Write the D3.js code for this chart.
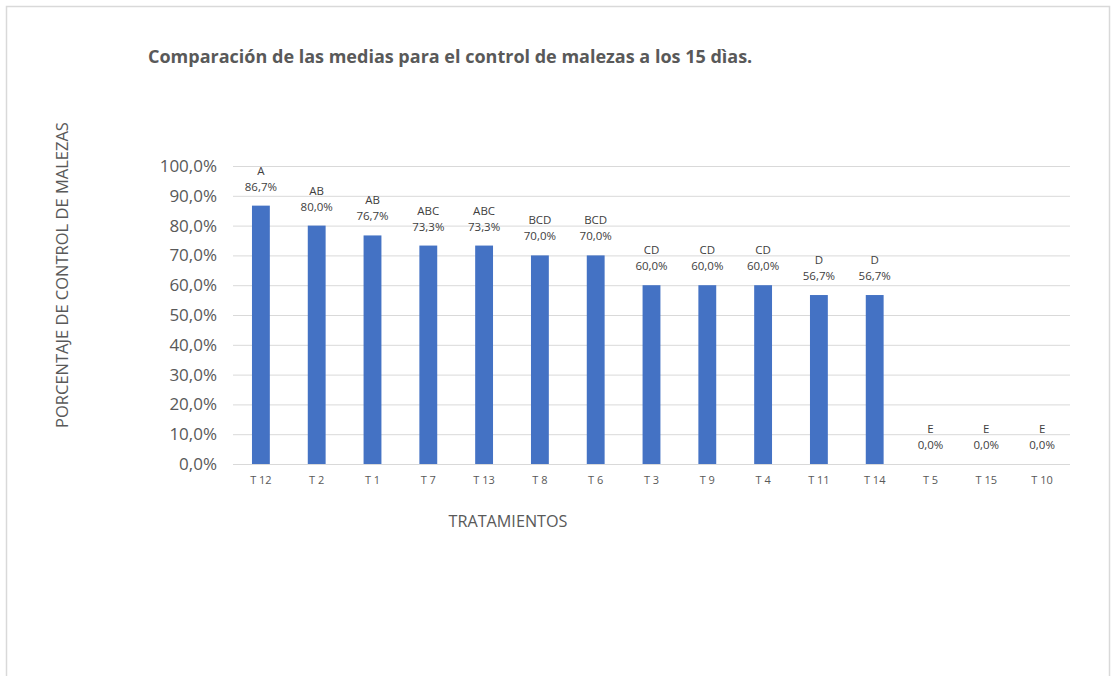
<!DOCTYPE html>
<html>
<head>
<meta charset="utf-8">
<script src="https://cdn.jsdelivr.net/npm/d3@7"></script>
<style>
  body { margin: 0; background: #fff; }
  text { font-family: "Open Sans", "Liberation Sans", sans-serif; }
</style>
</head>
<body>
<div id="chart"></div>
<script>
// datos
var tratamientos = ["T 12", "T 2", "T 1", "T 7", "T 13", "T 8", "T 6", "T 3", "T 9", "T 4", "T 11", "T 14", "T 5", "T 15", "T 10"];
var medias = [0.867, 0.800, 0.767, 0.733, 0.733, 0.700, 0.700, 0.600, 0.600, 0.600, 0.567, 0.567, 0, 0, 0];
var letras = ["A", "AB", "AB", "ABC", "ABC", "BCD", "BCD", "CD", "CD", "CD", "D", "D", "E", "E", "E"];
var yTicks = [0, 0.1, 0.2, 0.3, 0.4, 0.5, 0.6, 0.7, 0.8, 0.9, 1.0];

var w = 1111;
var h = 676;
// limites del area de trazado
var pLeft = 233, pRight = 1070, pTop = 166, pBottom = 464;

var fmt = function(v) { return (v * 100).toFixed(1).replace(".", ",") + "%"; };

var svg = d3.select("#chart")
  .append("svg")
  .attr("width", w)
  .attr("height", h);

// borde del area del grafico
svg.append("rect")
  .attr("x", 6.5).attr("y", 6.5)
  .attr("width", w - 8).attr("height", h + 10)
  .attr("fill", "#fff")
  .attr("stroke", "#d9d9d9")
  .attr("stroke-width", 1.5);

const x = d3.scaleBand()
  .domain(tratamientos)
  .range([pLeft, pRight])
  .paddingInner(0.68)
  .paddingOuter(0.34);

const y = d3.scaleLinear()
  .domain([0, 1])
  .range([pBottom, pTop]);

// lineas de cuadricula + etiquetas del eje y
const yAxis = svg.append("g")
  .attr("transform", `translate(${pLeft},0)`)
  .call(d3.axisLeft(y).tickValues(yTicks).tickFormat(fmt).tickSize(-(pRight - pLeft)).tickPadding(16));
yAxis.select(".domain").remove();
yAxis.selectAll("line").attr("stroke", "#d9d9d9").attr("stroke-width", 1);
yAxis.selectAll("text")
  .attr("fill", "#595959")
  .style("font-size", "17px");

// eje x
const xAxis = svg.append("g")
  .attr("transform", `translate(0,${pBottom})`)
  .call(d3.axisBottom(x).tickSize(0).tickPadding(12));
xAxis.select(".domain").remove();
xAxis.selectAll("text")
  .attr("fill", "#595959")
  .style("font-size", "11px");

// barras
svg.selectAll("rect.bar")
  .data(medias)
  .enter()
  .append("rect")
  .attr("class", "bar")
  .attr("x", (d, i) => x(tratamientos[i]))
  .attr("y", d => y(d))
  .attr("width", x.bandwidth())
  .attr("height", d => pBottom - y(d))
  .attr("fill", "#4472c4");

// etiquetas de datos
var lab = svg.append("g").attr("fill", "#404040").style("font-size", "11.5px").attr("text-anchor", "middle");
lab.selectAll("text.val")
  .data(medias)
  .enter()
  .append("text")
  .attr("class", "val")
  .attr("x", (d, i) => x(tratamientos[i]) + x.bandwidth() / 2)
  .attr("y", d => y(d) - 15)
  .text(d => fmt(d));
lab.selectAll("text.let")
  .data(medias)
  .enter()
  .append("text")
  .attr("class", "let")
  .attr("x", (d, i) => x(tratamientos[i]) + x.bandwidth() / 2)
  .attr("y", d => y(d) - 31)
  .text((d, i) => letras[i]);

// titulo
svg.append("text")
  .attr("x", 148)
  .attr("y", 63)
  .attr("fill", "#595959")
  .style("font-size", "18px")
  .style("font-weight", "bold")
  .text("Comparación de las medias para el control de malezas a los 15 dìas.");

// titulos de ejes
svg.append("text")
  .attr("x", 508)
  .attr("y", 527)
  .attr("text-anchor", "middle")
  .attr("fill", "#595959")
  .style("font-size", "16.2px")
  .text("TRATAMIENTOS");

svg.append("text")
  .attr("transform", "translate(68,275) rotate(-90)")
  .attr("text-anchor", "middle")
  .attr("fill", "#595959")
  .style("font-size", "16.5px")
  .text("PORCENTAJE DE CONTROL DE MALEZAS");
</script>
</body>
</html>
